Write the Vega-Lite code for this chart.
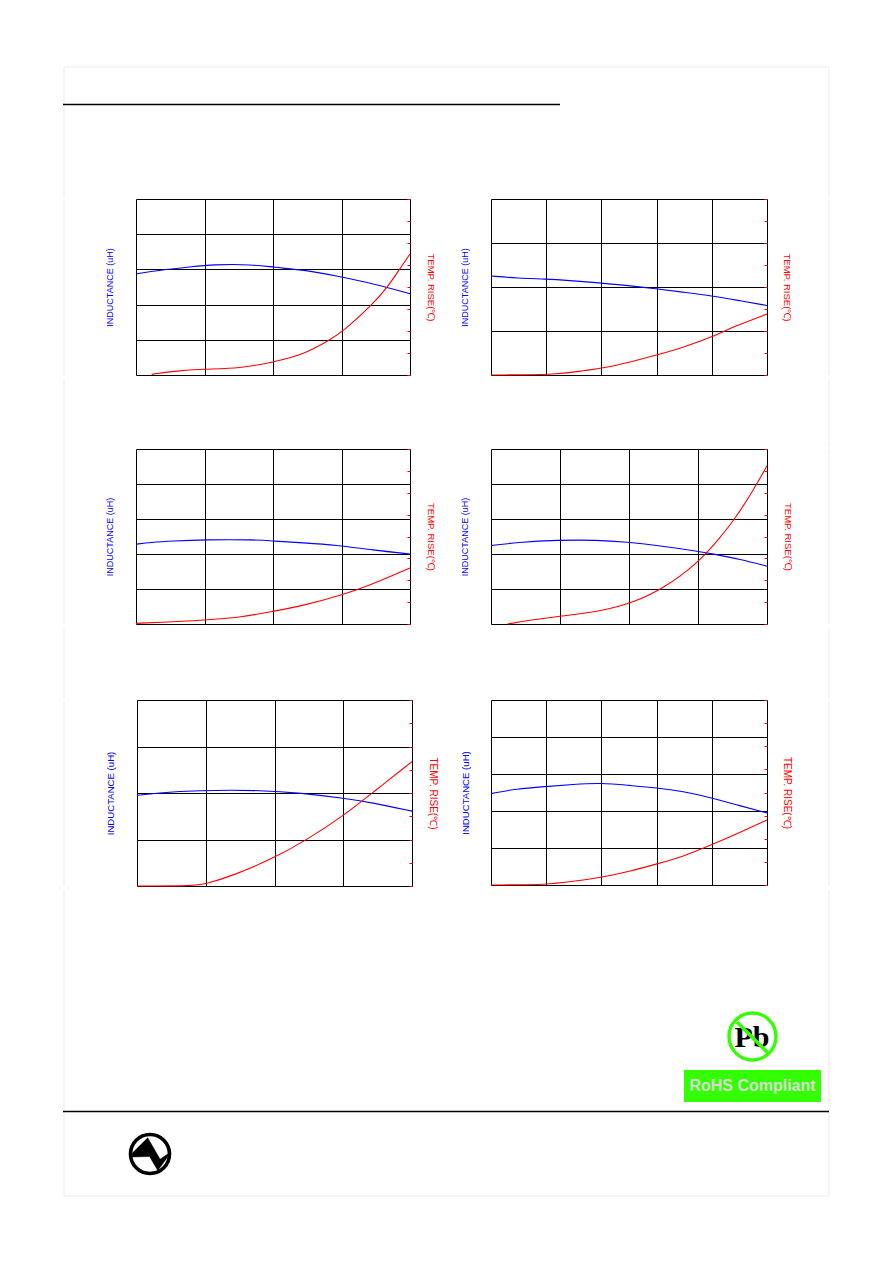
{
"$schema":"https://vega.github.io/schema/vega-lite/v6.json",
"padding":0,
"background":"white",
"config":{"view":{"stroke":"black","strokeWidth":1},"font":"Liberation Sans","axis":{"grid":true,"gridColor":"black","gridOpacity":1,"gridWidth":1,"domain":false,"ticks":false,"labels":false}},
"datasets":{
"p1L":[{"c":0,"v":2.87},{"c":0.35,"v":2.98},{"c":0.79,"v":3.07},{"c":1.12,"v":3.14},{"c":1.71,"v":3.14},{"c":2,"v":3.06},{"c":2.49,"v":2.98},{"c":2.93,"v":2.81},{"c":3.46,"v":2.6},{"c":4,"v":2.31}],
"p1T":[{"c":0.23,"v":0.03},{"c":0.54,"v":0.17},{"c":0.98,"v":0.27},{"c":1.52,"v":0.3},{"c":2,"v":0.58},{"c":2.44,"v":0.92},{"c":2.83,"v":1.6},{"c":3.02,"v":1.97},{"c":3.46,"v":3.23},{"c":3.66,"v":3.94},{"c":3.85,"v":4.82},{"c":4,"v":5.5}],
"p2L":[{"c":0,"v":2.25},{"c":0.48,"v":2.2},{"c":1,"v":2.18},{"c":1.39,"v":2.15},{"c":1.99,"v":2.09},{"c":2.35,"v":2.05},{"c":3.01,"v":1.96},{"c":3.5,"v":1.88},{"c":4,"v":1.8},{"c":4.46,"v":1.7},{"c":5,"v":1.58}],
"p2T":[{"c":0,"v":0},{"c":1.26,"v":0.015},{"c":1.69,"v":0.21},{"c":1.99,"v":0.29},{"c":2.53,"v":0.59},{"c":3.01,"v":0.91},{"c":3.5,"v":1.27},{"c":4,"v":1.73},{"c":4.46,"v":2.26},{"c":5,"v":2.77}],
"p3L":[{"c":0,"v":2.28},{"c":0.22,"v":2.33},{"c":0.52,"v":2.37},{"c":1,"v":2.41},{"c":1.73,"v":2.41},{"c":2,"v":2.37},{"c":2.44,"v":2.32},{"c":2.92,"v":2.26},{"c":3.46,"v":2.11},{"c":4,"v":2}],
"p3T":[{"c":0,"v":0.03},{"c":0.44,"v":0.08},{"c":1,"v":0.18},{"c":1.51,"v":0.29},{"c":2,"v":0.58},{"c":2.44,"v":0.84},{"c":2.99,"v":1.3},{"c":3.46,"v":1.83},{"c":3.8,"v":2.3},{"c":4,"v":2.56}],
"p4L":[{"c":0,"v":2.24},{"c":0.38,"v":2.33},{"c":0.96,"v":2.4},{"c":1.54,"v":2.4},{"c":1.97,"v":2.34},{"c":2.4,"v":2.25},{"c":3,"v":2.08},{"c":3.22,"v":2},{"c":3.61,"v":1.85},{"c":4,"v":1.65}],
"p4T":[{"c":0.24,"v":0},{"c":0.57,"v":0.18},{"c":1.01,"v":0.36},{"c":1.54,"v":0.56},{"c":2.01,"v":0.91},{"c":2.5,"v":1.61},{"c":3,"v":2.8},{"c":3.27,"v":3.76},{"c":3.53,"v":4.77},{"c":3.8,"v":6.1},{"c":4,"v":7.23}],
"p5L":[{"c":0,"v":1.95},{"c":0.28,"v":2},{"c":0.86,"v":2.06},{"c":1.86,"v":2.06},{"c":2.37,"v":2},{"c":3,"v":1.89},{"c":3.43,"v":1.79},{"c":4,"v":1.61}],
"p5T":[{"c":0,"v":0},{"c":0.84,"v":0},{"c":1,"v":0.1},{"c":1.35,"v":0.39},{"c":2,"v":1.21},{"c":2.46,"v":1.97},{"c":3,"v":3.01},{"c":3.43,"v":4.02},{"c":4,"v":5.35}],
"p6L":[{"c":0,"v":2.47},{"c":0.46,"v":2.6},{"c":0.98,"v":2.66},{"c":1.49,"v":2.72},{"c":1.99,"v":2.76},{"c":2.51,"v":2.69},{"c":2.99,"v":2.63},{"c":3.48,"v":2.53},{"c":3.99,"v":2.36},{"c":4.51,"v":2.14},{"c":5,"v":1.95}],
"p6T":[{"c":0,"v":0},{"c":1.04,"v":0.01},{"c":1.49,"v":0.16},{"c":1.99,"v":0.32},{"c":2.51,"v":0.59},{"c":2.99,"v":0.9},{"c":3.48,"v":1.23},{"c":3.99,"v":1.73},{"c":4.51,"v":2.27},{"c":5,"v":2.81}],
"side":[{"x":64},{"x":829}]
},
"spacing":0,
"vconcat":[
{"width":892,"height":197,"view":{"stroke":null},
"encoding":{"x":{"field":"x","type":"quantitative","scale":{"domain":[0,892],"nice":false,"zero":false},"axis":null},"y":{"field":"y","type":"quantitative","scale":{"domain":[197,0],"nice":false,"zero":false},"axis":null}},
"layer":[
{"data":{"values":[{"x":64,"y":67,"y2":197},{"x":829,"y":67,"y2":197}]},"mark":{"type":"rule","color":"#f5f5f5","strokeWidth":2},"encoding":{"y2":{"field":"y2"}}},
{"data":{"values":[{"x":64,"x2":829,"y":67}]},"mark":{"type":"rule","color":"#f5f5f5","strokeWidth":2},"encoding":{"x2":{"field":"x2"}}},
{"data":{"values":[{"x":63,"x2":560,"y":104.5}]},"mark":{"type":"rule","color":"black","strokeWidth":1.5},"encoding":{"x2":{"field":"x2"}}}
]},
{"bounds":"flush","spacing":0,"hconcat":[
{"width":136,"height":176,"view":{"stroke":null},"data":{"name":"side"},"mark":{"type":"rule","color":"#f5f5f5","strokeWidth":2},"encoding":{"x":{"field":"x","type":"quantitative","scale":{"domain":[0,136],"nice":false},"axis":null}}},
{"width":274,"height":176,"layer":[
{"data":{"name":"p1L"},"mark":{"type":"line","stroke":"#0000ff","strokeWidth":1.1,"interpolate":"basis"},"encoding":{"x":{"field":"c","type":"quantitative","title":null,"scale":{"domain":[0,4],"nice":false},"axis":{"values":[1,2,3]}},"y":{"field":"v","type":"quantitative","scale":{"domain":[0,5],"nice":false},"axis":{"values":[1,2,3,4],"title":"INDUCTANCE (uH)","titleColor":"#0000ff","titleFont":"Liberation Sans","titleFontWeight":"normal","titleFontSize":9,"titlePadding":22}}}},
{"data":{"name":"p1T"},"mark":{"type":"line","stroke":"#ff0000","strokeWidth":1.1,"interpolate":"basis"},"encoding":{"x":{"field":"c","type":"quantitative"},"y":{"field":"v","type":"quantitative","scale":{"domain":[0,8],"nice":false},"axis":{"orient":"right","grid":false,"values":[0,1,2,3,4,5,6,7,8],"ticks":true,"tickColor":"#ff0000","tickSize":-3,"title":"TEMP. RISE(℃)","titleColor":"#ff0000","titleFont":"Liberation Sans","titleFontWeight":"normal","titleFontSize":9.5,"titlePadding":15}}}}
],"resolve":{"scale":{"y":"independent"}}},
{"width":81,"height":176,"view":{"stroke":null},"data":{"values":[]},"mark":"rule","encoding":{}},
{"width":276,"height":176,"layer":[
{"data":{"name":"p2L"},"mark":{"type":"line","stroke":"#0000ff","strokeWidth":1.1,"interpolate":"basis"},"encoding":{"x":{"field":"c","type":"quantitative","title":null,"scale":{"domain":[0,5],"nice":false},"axis":{"values":[1,2,3,4]}},"y":{"field":"v","type":"quantitative","scale":{"domain":[0,4],"nice":false},"axis":{"values":[1,2,3],"title":"INDUCTANCE (uH)","titleColor":"#0000ff","titleFont":"Liberation Sans","titleFontWeight":"normal","titleFontSize":9,"titlePadding":22}}}},
{"data":{"name":"p2T"},"mark":{"type":"line","stroke":"#ff0000","strokeWidth":1.1,"interpolate":"basis"},"encoding":{"x":{"field":"c","type":"quantitative"},"y":{"field":"v","type":"quantitative","scale":{"domain":[0,8],"nice":false},"axis":{"orient":"right","grid":false,"values":[0,1,2,3,4,5,6,7,8],"ticks":true,"tickColor":"#ff0000","tickSize":-3,"title":"TEMP. RISE(℃)","titleColor":"#ff0000","titleFont":"Liberation Sans","titleFontWeight":"normal","titleFontSize":9.5,"titlePadding":14}}}}
],"resolve":{"scale":{"y":"independent"}}},
{"width":125,"height":176,"view":{"stroke":null},"data":{"name":"side"},"mark":{"type":"rule","color":"#f5f5f5","strokeWidth":2},"encoding":{"x":{"field":"x","type":"quantitative","scale":{"domain":[767,892],"nice":false,"zero":false},"axis":null}}}
]},
{"width":892,"height":68,"view":{"stroke":null},"data":{"name":"side"},"mark":{"type":"rule","color":"#f5f5f5","strokeWidth":2},"encoding":{"x":{"field":"x","type":"quantitative","scale":{"domain":[0,892],"nice":false},"axis":null}}},
{"bounds":"flush","spacing":0,"hconcat":[
{"width":136,"height":175,"view":{"stroke":null},"data":{"name":"side"},"mark":{"type":"rule","color":"#f5f5f5","strokeWidth":2},"encoding":{"x":{"field":"x","type":"quantitative","scale":{"domain":[0,136],"nice":false},"axis":null}}},
{"width":274,"height":175,"layer":[
{"data":{"name":"p3L"},"mark":{"type":"line","stroke":"#0000ff","strokeWidth":1.1,"interpolate":"basis"},"encoding":{"x":{"field":"c","type":"quantitative","title":null,"scale":{"domain":[0,4],"nice":false},"axis":{"values":[1,2,3]}},"y":{"field":"v","type":"quantitative","scale":{"domain":[0,5],"nice":false},"axis":{"values":[1,2,3,4],"title":"INDUCTANCE (uH)","titleColor":"#0000ff","titleFont":"Liberation Sans","titleFontWeight":"normal","titleFontSize":9,"titlePadding":22}}}},
{"data":{"name":"p3T"},"mark":{"type":"line","stroke":"#ff0000","strokeWidth":1.1,"interpolate":"basis"},"encoding":{"x":{"field":"c","type":"quantitative"},"y":{"field":"v","type":"quantitative","scale":{"domain":[0,8],"nice":false},"axis":{"orient":"right","grid":false,"values":[0,1,2,3,4,5,6,7,8],"ticks":true,"tickColor":"#ff0000","tickSize":-3,"title":"TEMP. RISE(℃)","titleColor":"#ff0000","titleFont":"Liberation Sans","titleFontWeight":"normal","titleFontSize":9.5,"titlePadding":15}}}}
],"resolve":{"scale":{"y":"independent"}}},
{"width":81,"height":175,"view":{"stroke":null},"data":{"values":[]},"mark":"rule","encoding":{}},
{"width":276,"height":175,"layer":[
{"data":{"name":"p4L"},"mark":{"type":"line","stroke":"#0000ff","strokeWidth":1.1,"interpolate":"basis"},"encoding":{"x":{"field":"c","type":"quantitative","title":null,"scale":{"domain":[0,4],"nice":false},"axis":{"values":[1,2,3]}},"y":{"field":"v","type":"quantitative","scale":{"domain":[0,5],"nice":false},"axis":{"values":[1,2,3,4],"title":"INDUCTANCE (uH)","titleColor":"#0000ff","titleFont":"Liberation Sans","titleFontWeight":"normal","titleFontSize":9,"titlePadding":22}}}},
{"data":{"name":"p4T"},"mark":{"type":"line","stroke":"#ff0000","strokeWidth":1.1,"interpolate":"basis"},"encoding":{"x":{"field":"c","type":"quantitative"},"y":{"field":"v","type":"quantitative","scale":{"domain":[0,8],"nice":false},"axis":{"orient":"right","grid":false,"values":[0,1,2,3,4,5,6,7,8],"ticks":true,"tickColor":"#ff0000","tickSize":-3,"title":"TEMP. RISE(℃)","titleColor":"#ff0000","titleFont":"Liberation Sans","titleFontWeight":"normal","titleFontSize":9.5,"titlePadding":15}}}}
],"resolve":{"scale":{"y":"independent"}}},
{"width":125,"height":175,"view":{"stroke":null},"data":{"name":"side"},"mark":{"type":"rule","color":"#f5f5f5","strokeWidth":2},"encoding":{"x":{"field":"x","type":"quantitative","scale":{"domain":[767,892],"nice":false,"zero":false},"axis":null}}}
]},
{"width":892,"height":70,"view":{"stroke":null},"data":{"name":"side"},"mark":{"type":"rule","color":"#f5f5f5","strokeWidth":2},"encoding":{"x":{"field":"x","type":"quantitative","scale":{"domain":[0,892],"nice":false},"axis":null}}},
{"bounds":"flush","spacing":0,"hconcat":[
{"width":137,"height":186,"view":{"stroke":null},"data":{"name":"side"},"mark":{"type":"rule","color":"#f5f5f5","strokeWidth":2},"encoding":{"x":{"field":"x","type":"quantitative","scale":{"domain":[0,137],"nice":false},"axis":null}}},
{"width":275,"height":186,"layer":[
{"data":{"name":"p5L"},"mark":{"type":"line","stroke":"#0000ff","strokeWidth":1.1,"interpolate":"basis"},"encoding":{"x":{"field":"c","type":"quantitative","title":null,"scale":{"domain":[0,4],"nice":false},"axis":{"values":[1,2,3]}},"y":{"field":"v","type":"quantitative","scale":{"domain":[0,4],"nice":false},"axis":{"values":[1,2,3],"title":"INDUCTANCE (uH)","titleColor":"#0000ff","titleFont":"Liberation Sans","titleFontWeight":"normal","titleFontSize":9.6,"titlePadding":22}}}},
{"data":{"name":"p5T"},"mark":{"type":"line","stroke":"#ff0000","strokeWidth":1.1,"interpolate":"basis"},"encoding":{"x":{"field":"c","type":"quantitative"},"y":{"field":"v","type":"quantitative","scale":{"domain":[0,8],"nice":false},"axis":{"orient":"right","grid":false,"values":[0,1,2,3,4,5,6,7,8],"ticks":true,"tickColor":"#ff0000","tickSize":-3,"title":"TEMP. RISE(℃)","titleColor":"#ff0000","titleFont":"Liberation Sans","titleFontWeight":"normal","titleFontSize":10,"titlePadding":15}}}}
],"resolve":{"scale":{"y":"independent"}}},
{"width":79,"height":186,"view":{"stroke":null},"data":{"values":[]},"mark":"rule","encoding":{}},
{"width":276,"height":185,"layer":[
{"data":{"name":"p6L"},"mark":{"type":"line","stroke":"#0000ff","strokeWidth":1.1,"interpolate":"basis"},"encoding":{"x":{"field":"c","type":"quantitative","title":null,"scale":{"domain":[0,5],"nice":false},"axis":{"values":[1,2,3,4]}},"y":{"field":"v","type":"quantitative","scale":{"domain":[0,5],"nice":false},"axis":{"values":[1,2,3,4],"title":"INDUCTANCE (uH)","titleColor":"#0000ff","titleFont":"Liberation Sans","titleFontWeight":"normal","titleFontSize":9.6,"titlePadding":21}}}},
{"data":{"name":"p6T"},"mark":{"type":"line","stroke":"#ff0000","strokeWidth":1.1,"interpolate":"basis"},"encoding":{"x":{"field":"c","type":"quantitative"},"y":{"field":"v","type":"quantitative","scale":{"domain":[0,8],"nice":false},"axis":{"orient":"right","grid":false,"values":[0,1,2,3,4,5,6,7,8],"ticks":true,"tickColor":"#ff0000","tickSize":-3,"title":"TEMP. RISE(℃)","titleColor":"#ff0000","titleFont":"Liberation Sans","titleFontWeight":"normal","titleFontSize":10,"titlePadding":14}}}}
],"resolve":{"scale":{"y":"independent"}}},
{"width":125,"height":186,"view":{"stroke":null},"data":{"name":"side"},"mark":{"type":"rule","color":"#f5f5f5","strokeWidth":2},"encoding":{"x":{"field":"x","type":"quantitative","scale":{"domain":[767,892],"nice":false,"zero":false},"axis":null}}}
]},
{"width":892,"height":373,"view":{"stroke":null},
"encoding":{"x":{"field":"x","type":"quantitative","scale":{"domain":[0,892],"nice":false,"zero":false},"axis":null},"y":{"field":"y","type":"quantitative","scale":{"domain":[1263,890],"nice":false,"zero":false},"axis":null}},
"layer":[
{"data":{"values":[{"x":64,"y":890,"y2":1196},{"x":829,"y":890,"y2":1196}]},"mark":{"type":"rule","color":"#f5f5f5","strokeWidth":2},"encoding":{"y2":{"field":"y2"}}},
{"data":{"values":[{"x":64,"x2":829,"y":1196}]},"mark":{"type":"rule","color":"#f5f5f5","strokeWidth":2},"encoding":{"x2":{"field":"x2"}}},
{"data":{"values":[{"x":63,"x2":829,"y":1111.5}]},"mark":{"type":"rule","color":"black","strokeWidth":1.5},"encoding":{"x2":{"field":"x2"}}},
{"data":{"values":[{"x":684,"x2":821,"y":1070,"y2":1102}]},"mark":{"type":"rect","fill":"#33ff00"},"encoding":{"x2":{"field":"x2"},"y2":{"field":"y2"}}},
{"data":{"values":[{"x":752.5,"y":1086,"t":"RoHS Compliant"}]},"mark":{"type":"text","font":"Liberation Sans","fontWeight":"bold","fontSize":16,"fill":"#d9d9d9","align":"center","baseline":"middle"},"encoding":{"text":{"field":"t"}}},
{"data":{"values":[{"x":752,"y":1047,"t":"Pb"}]},"mark":{"type":"text","font":"Liberation Serif","fontWeight":"bold","fontSize":30,"fill":"black","align":"center","baseline":"alphabetic"},"encoding":{"text":{"field":"t"}}},
{"data":{"values":[{"x":752.5,"y":1036.5}]},"mark":{"type":"point","shape":"circle","filled":false,"size":2209,"stroke":"#33ff00","strokeWidth":3.4,"opacity":1}},
{"data":{"values":[{"x":737,"y":1022,"o":0},{"x":768,"y":1053,"o":1}]},"mark":{"type":"line","stroke":"#33ff00","strokeWidth":3.4},"encoding":{"order":{"field":"o"}}},
{"data":{"values":[{"x":150,"y":1154}]},"mark":{"type":"point","shape":"circle","filled":false,"size":1521,"stroke":"black","strokeWidth":3.6,"opacity":1}},
{"data":{"values":[{"x":150,"y":1154}]},"mark":{"type":"point","shape":"M-.85,-.03 L-.11,-.77 L.48,.25 L.92,-.05 L.92,.04 L.37,.78 L-.02,.12 L-.85,.14 Z","filled":true,"size":1764,"fill":"black","stroke":"black","strokeWidth":0.5,"opacity":1}}
]}
]
}
